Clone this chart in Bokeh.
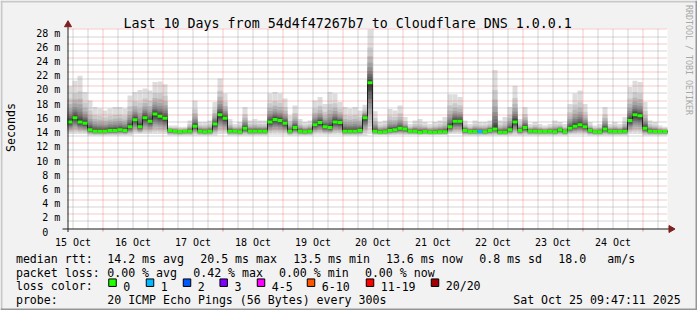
import math
from bokeh.plotting import figure
from bokeh.models import Range1d
from bokeh.core.properties import value
from bokeh.embed import file_html
from bokeh.resources import INLINE

# ---------------- data ----------------
TITLE = "Last 10 Days from 54d4f47267b7 to Cloudflare DNS 1.0.0.1"
Y_LABEL = "Seconds"
WATERMARK = "RRDTOOL / TOBI OETIKER"
DAY_LABELS = ["15 Oct", "16 Oct", "17 Oct", "18 Oct", "19 Oct",
              "20 Oct", "21 Oct", "22 Oct", "23 Oct", "24 Oct"]
Y_TICKS_MS = [0, 2, 4, 6, 8, 10, 12, 14, 16, 18, 20, 22, 24, 26, 28]
Y_TICK_LABELS = ["0\u00a0\u00a0", "2 m", "4 m", "6 m", "8 m", "10 m", "12 m", "14 m",
                 "16 m", "18 m", "20 m", "22 m", "24 m", "26 m", "28 m"]

# median RTT per 2-hour step (ms), starting at Oct 15 09:47
MEDIAN_MS = [15.0, 15.6, 15.0, 14.8, 13.9, 13.7, 13.7, 13.7, 13.8, 13.8,
             13.9, 13.8, 14.3, 15.3, 14.3, 15.6, 15.1, 16.1, 15.8, 15.5,
             13.8, 13.7, 13.6, 13.7, 13.7, 14.4, 13.7, 13.6, 13.7, 14.7,
             16.0, 15.5, 13.7, 13.7, 13.6, 14.1, 13.7, 13.7, 13.7, 13.7,
             15.0, 15.35, 15.2, 14.8, 13.7, 14.2, 13.7, 13.6, 13.7, 14.6,
             14.9, 14.3, 14.2, 15.0, 14.9, 13.7, 13.7, 13.7, 13.8, 15.6,
             20.5, 13.7, 13.55, 13.6, 13.8, 13.9, 14.1, 14.0, 13.7, 13.7,
             13.5, 13.65, 13.55, 13.55, 13.6, 13.6, 14.3, 15.1, 15.1, 13.8,
             13.65, 13.65, 13.65, 13.6, 13.8, 14.0, 13.55, 13.55, 13.9, 15.0,
             13.8, 14.2, 13.7, 13.7, 13.65, 13.65, 13.7, 13.6, 13.9, 13.6,
             14.1, 14.4, 14.6, 14.3, 13.8, 13.6, 13.6, 14.0, 13.7, 13.65,
             13.65, 13.7, 15.2, 16.0, 15.85, 14.1, 13.7, 13.65, 13.65, 13.65]
# slowest ping per step (ms) - top of the smoke
MAX_MS = [20.0, 20.8, 21.5, 19.2, 18.0, 17.1, 16.9, 16.6, 16.9, 17.1,
          17.1, 16.9, 18.7, 19.2, 19.5, 19.7, 19.4, 20.6, 20.7, 20.3,
          14.5, 14.5, 14.3, 14.3, 15.2, 18.0, 15.0, 15.0, 15.2, 17.8,
          21.1, 19.0, 15.4, 14.7, 15.0, 17.1, 15.2, 15.4, 15.2, 15.2,
          19.0, 19.2, 19.0, 18.3, 15.9, 17.3, 15.4, 15.0, 15.2, 18.0,
          18.5, 17.5, 19.2, 19.0, 17.8, 17.1, 16.9, 17.1, 16.6, 17.4,
          28.0, 16.5, 15.0, 15.2, 16.8, 16.6, 17.3, 15.7, 14.7, 15.2,
          15.4, 15.0, 14.7, 15.0, 15.2, 15.7, 18.9, 18.9, 18.5, 15.2,
          14.7, 15.2, 15.0, 15.0, 15.2, 22.3, 15.2, 15.7, 17.1, 20.1,
          15.4, 17.1, 14.7, 15.0, 14.7, 14.5, 14.7, 15.2, 15.0, 14.7,
          17.5, 19.0, 19.4, 17.5, 15.0, 14.5, 14.7, 17.1, 14.7, 15.0,
          14.7, 15.7, 19.9, 20.8, 20.6, 17.8, 15.2, 15.0, 14.5, 14.3]
# fastest ping per step (ms) - bottom of the smoke
MIN_MS = [13.3, 13.3, 13.3, 13.3, 13.1, 13.1, 13.1, 13.1, 13.1, 13.1,
          13.1, 13.1, 13.1, 13.3, 13.3, 13.3, 13.3, 13.3, 13.3, 13.3,
          13.1, 13.1, 13.1, 13.1, 13.1, 13.1, 13.1, 13.1, 13.1, 13.1,
          13.3, 13.3, 13.1, 13.1, 13.1, 13.1, 13.1, 13.1, 13.1, 13.1,
          13.2, 13.2, 13.2, 13.2, 13.1, 13.1, 13.1, 13.1, 13.1, 13.2,
          13.2, 13.2, 13.2, 13.2, 13.2, 13.1, 13.1, 13.1, 13.1, 13.1,
          13.3, 13.15, 13.15, 13.15, 13.15, 13.15, 13.15, 13.15, 13.15, 13.15,
          13.15, 13.15, 13.15, 13.15, 13.15, 13.15, 13.3, 13.3, 13.3, 13.1,
          13.1, 13.1, 13.1, 13.1, 13.1, 13.1, 13.1, 13.1, 13.1, 13.1,
          13.1, 13.1, 13.1, 13.1, 13.1, 13.1, 13.1, 13.1, 13.1, 13.1,
          13.2, 13.2, 13.2, 13.2, 13.1, 13.1, 13.1, 13.1, 13.1, 13.1,
          13.1, 13.1, 13.3, 13.3, 13.3, 13.1, 13.1, 13.1, 13.1, 13.1]
# lost pings (of 20) per step
LOST_PINGS = [0] * 82 + [1] + [0] * 37

LOSS_LEGEND = ["0", "1", "2", "3", "4-5", "6-10", "11-19", "20/20"]
LOSS_UPPER = [0, 1, 2, 3, 5, 10, 19, 20]
LOSS_COLORS = ["#22ff00", "#00b8ff", "#0059ff", "#7e00ff",
               "#ff00ff", "#ff5500", "#ff0000", "#a10000"]

RTT_HEAD = "median rtt:"
RTT_STATS = ["14.2 ms avg", "20.5 ms max", "13.5 ms min", "13.6 ms now",
             "0.8 ms sd", "18.0", "am/s"]
LOSS_HEAD = "packet loss:"
LOSS_STATS = ["0.00 % avg", "0.42 % max", "0.00 % min", "0.00 % now"]
COLOR_HEAD = "loss color:"
PROBE_HEAD = "probe:"
PROBE_TEXT = "20 ICMP Echo Pings (56 Bytes) every 300s"
TIMESTAMP = "Sat Oct 25 09:47:11 2025"

# ---------------- time / value frame ----------------
END_H = 240 + 9 + 47 / 60 + 11 / 3600   # hours since Oct 15 00:00
START_H = END_H - 240
STEP_H = 2
Y_TOP = 28.14

# ---------------- layout (pixels) ----------------
W, H = 697, 310
PL, PR, PT, PB = 67, 667, 28, 228
XS = (PR - PL) / (END_H - START_H)
YS = (PB - PT) / Y_TOP


def hx(px):
    return START_H + (px - PL) / XS


def vy(py):
    return (PB - py) / YS


def snap_x(h):
    return hx(math.floor(PL + (h - START_H) * XS) + 0.5)


def snap_y(v):
    return vy(math.floor(PB - v * YS) + 0.5)


MONO = value("DejaVu Sans Mono")
BACK = "#f2f2f2"
GRID_C = (143, 143, 143)
GRID_A = 0.75
MGRID_C = (222, 79, 79)
MGRID_A = 0.6

p = figure(width=W, height=H, x_range=Range1d(hx(0), hx(W)), y_range=Range1d(vy(H), vy(0)),
           output_backend="svg", toolbar_location=None, title=None,
           x_axis_location=None, y_axis_location=None, min_border=0,
           background_fill_color=BACK, border_fill_color=BACK, outline_line_color=None)
p.grid.visible = False

# plot canvas
p.quad(left=[START_H], right=[END_H], bottom=[0], top=[Y_TOP],
       fill_color="white", line_color=None)

# smoke: ten grey bands between the fastest/slowest pings and the median
n = len(MEDIAN_MS)
starts = [START_H + STEP_H * i for i in range(n)]
ends = [s + STEP_H for s in starts]
SMOKE_UP = [1.0, 0.66, 0.5, 0.38, 0.29, 0.22, 0.16, 0.11, 0.07, 0.035]
SMOKE_DN = [1.0, 0.86, 0.73, 0.61, 0.5, 0.4, 0.31, 0.23, 0.15, 0.08]
for k in range(10):
    g = 221 - 19 * k
    top = [m + (h - m) * SMOKE_UP[k] for m, h in zip(MEDIAN_MS, MAX_MS)]
    bot = [m - (m - lo) * SMOKE_DN[k] for m, lo in zip(MEDIAN_MS, MIN_MS)]
    p.quad(left=starts, right=ends, bottom=bot, top=top,
           fill_color=(g, g, g), line_color=None)

# grid (snapped to pixel centres like rrdtool)
midnights = [24.0 * d for d in range(1, 12) if START_H < 24.0 * d < END_H]
six_h = [6.0 * k for k in range(1, 45) if START_H < 6.0 * k < END_H and (6 * k) % 24 != 0]
minor_y = [v for v in range(1, 29, 2)]
major_y = [v for v in range(2, 29, 2)]
X0, X1 = START_H, END_H


def vgrid(hs, color, alpha):
    xs = [snap_x(h) for h in hs]
    p.segment(x0=xs, x1=xs, y0=[vy(PB)] * len(xs), y1=[vy(PT)] * len(xs),
              line_color=color, line_alpha=alpha, line_width=1, line_dash="1 1")


def hgrid(vs, color, alpha):
    ys = [snap_y(v) for v in vs]
    p.segment(x0=[X0] * len(ys), x1=[X1] * len(ys), y0=ys, y1=ys,
              line_color=color, line_alpha=alpha, line_width=1, line_dash="1 1")


vgrid(six_h, GRID_C, GRID_A)
hgrid(minor_y, GRID_C, GRID_A)
vgrid(midnights, MGRID_C, MGRID_A)
hgrid(major_y, MGRID_C, MGRID_A)
# ticks below the time axis
tx = [snap_x(h) for h in midnights]
p.segment(x0=tx, x1=tx, y0=[vy(PB)] * len(tx), y1=[vy(231)] * len(tx),
          line_color=MGRID_C, line_alpha=MGRID_A, line_width=1)

# median line: dark step line + loss-coloured segments
p.step(x=starts + [END_H], y=MEDIAN_MS + [MEDIAN_MS[-1]], mode="after",
       line_color="#202020", line_width=1)


def loss_color(lost):
    for up, c in zip(LOSS_UPPER, LOSS_COLORS):
        if lost <= up:
            return c
    return LOSS_COLORS[-1]


p.segment(x0=starts, x1=ends, y0=MEDIAN_MS, y1=MEDIAN_MS,
          line_color=[loss_color(l) for l in LOST_PINGS], line_width=3)

# axes with arrows
AXIS_C = "#1f1f1f"
ARROW_C = "#801f1f"
ax_x = hx(PL + 0.5)
ax_y = vy(PB + 0.5)
p.segment(x0=[ax_x], x1=[ax_x], y0=[vy(231.5)], y1=[vy(25)], line_color=AXIS_C, line_width=1)
p.segment(x0=[hx(62)], x1=[hx(669)], y0=[ax_y], y1=[ax_y], line_color=AXIS_C, line_width=1)
p.scatter(x=[ax_x], y=[vy(24.2)], marker="triangle", size=7,
          fill_color=ARROW_C, line_color=ARROW_C)
p.scatter(x=[hx(670.5)], y=[ax_y], marker="triangle", size=7, angle=-math.pi / 2,
          fill_color=ARROW_C, line_color=ARROW_C)

# y tick labels
p.text(x=[hx(59.8)] * len(Y_TICKS_MS), y=[t - 3.6 / YS for t in Y_TICKS_MS], text=Y_TICK_LABELS,
       text_font=MONO, text_font_size=value("10px"), text_align="right",
       text_baseline="alphabetic", text_color="black")
# x tick labels (centred on noon)
noons = [12.0 + 24 * d for d in range(len(DAY_LABELS))]
p.text(x=noons, y=[vy(241.6)] * len(noons), text=DAY_LABELS,
       text_font=MONO, text_font_size=value("10px"), text_align="center",
       text_baseline="alphabetic", text_color="black")

# title, axis label, watermark
p.text(x=[hx(347.2)], y=[vy(23)], text=[TITLE], text_font=MONO,
       text_font_size=value("13.3px"), text_align="center", text_baseline="alphabetic",
       text_color="black")
p.text(x=[hx(10.8)], y=[vy(127)], text=[Y_LABEL], text_font=MONO, angle=math.pi / 2,
       text_font_size=value("11.6px"), text_align="center", text_baseline="middle",
       text_color="black")
p.text(x=[hx(688.8)], y=[vy(4.5)], text=[WATERMARK], text_font=MONO, angle=-math.pi / 2,
       text_font_size=value("8.3px"), text_align="left", text_baseline="middle",
       text_color="#a8a8a8")

# legend rows
LEG_SIZE = value("11.6px")
ROW_BASE = [258.3, 272.0, 285.8, 299.6]
HEAD_X = 15.4
RTT_X = [106.7, 199.7, 292.7, 385.4, 478.7, 557.7, 606.7]
LOSS_X = [106.7, 192.7, 278.4, 364.4]
SW_X = [112.0, 149.5, 186.5, 223.2, 260.5, 310.5, 369.5, 434.5]


def legend_text(xs_px, base_py, texts):
    p.text(x=[hx(x) for x in xs_px], y=[vy(base_py)] * len(texts), text=texts,
           text_font=MONO, text_font_size=LEG_SIZE, text_align="left",
           text_baseline="alphabetic", text_color="black")


legend_text([HEAD_X] + RTT_X, ROW_BASE[0], [RTT_HEAD] + RTT_STATS)
legend_text([HEAD_X] + LOSS_X, ROW_BASE[1], [LOSS_HEAD] + LOSS_STATS)
legend_text([HEAD_X] + [x + 10.7 for x in SW_X], ROW_BASE[2], [COLOR_HEAD] + LOSS_LEGEND)
legend_text([HEAD_X, 106.7, 512.7], ROW_BASE[3], [PROBE_HEAD, PROBE_TEXT, TIMESTAMP])
p.rect(x=[hx(x) for x in SW_X], y=[vy(282.2)] * len(SW_X), width=7.5, height=7.5,
       width_units="screen", height_units="screen", fill_color=LOSS_COLORS,
       line_color="black", line_width=1)

# 3-D frame around the image
p.segment(x0=[hx(0), hx(1)], x1=[hx(W), hx(1)], y0=[vy(1), vy(0)], y1=[vy(1), vy(H)],
          line_color="#c8c8c8", line_width=2)
p.segment(x0=[hx(0), hx(W - 1)], x1=[hx(W), hx(W - 1)], y0=[vy(H - 1), vy(0)], y1=[vy(H - 1), vy(H)],
          line_color="#969696", line_width=2)

open("out.html", "w").write(file_html(p, INLINE))
